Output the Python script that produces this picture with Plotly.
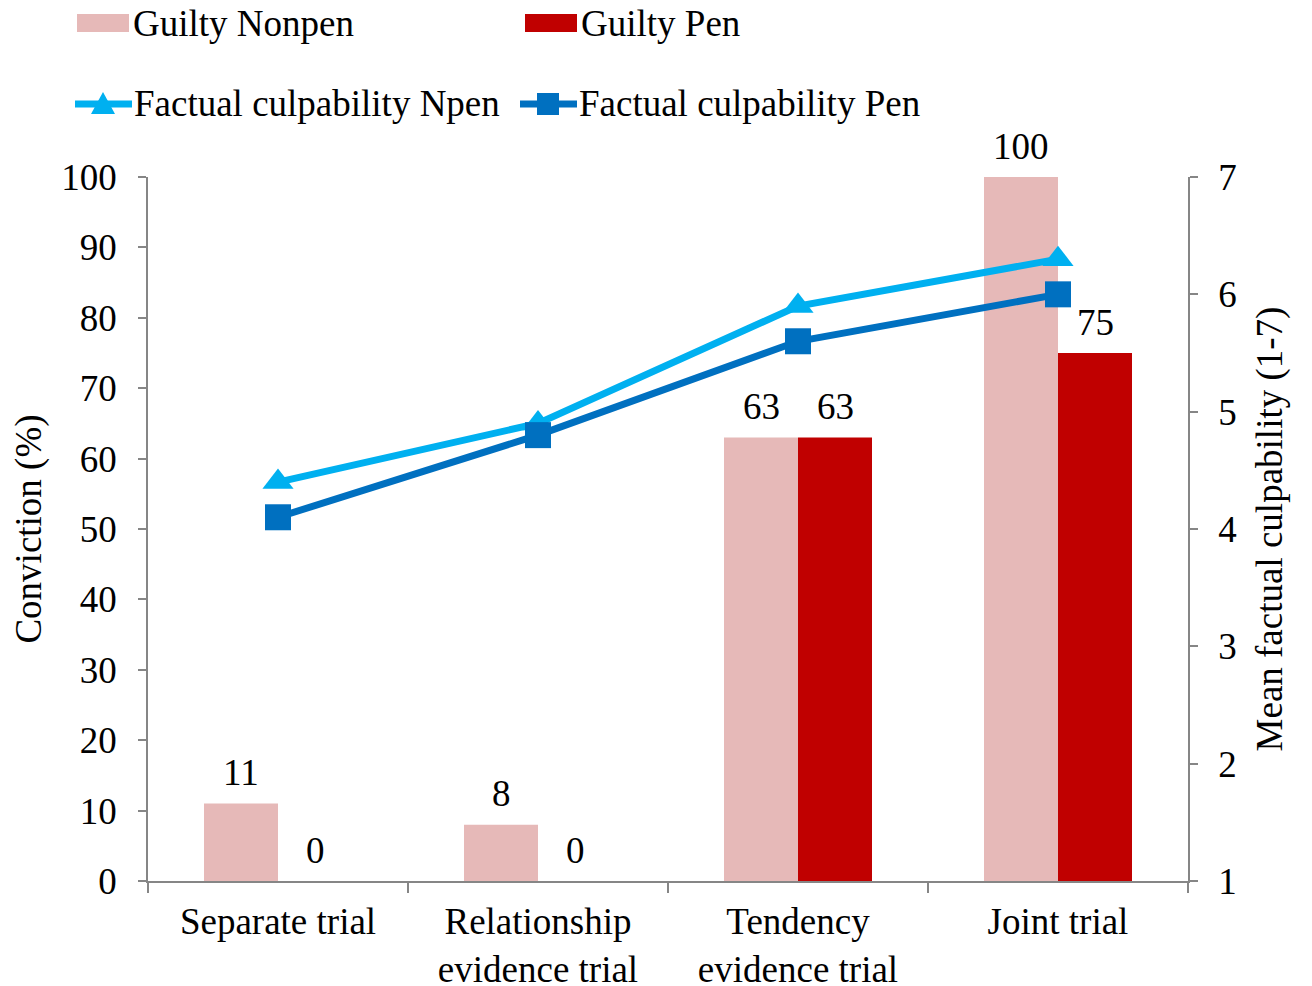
import plotly.graph_objects as go

categories = ["Separate trial", "Relationship<br>evidence trial", "Tendency<br>evidence trial", "Joint trial"]
guilty_nonpen = [11, 8, 63, 100]
guilty_pen = [0, 0, 63, 75]
culp_npen = [4.4, 4.9, 5.9, 6.3]
culp_pen = [4.1, 4.8, 5.6, 6.0]

C_NONPEN = "#E6B9B8"
C_PEN = "#C00000"
C_LNPEN = "#00B0F0"
C_LPEN = "#0070C0"
FONT = "Liberation Serif, Times New Roman, serif"
FS = 37

OFF = 8  # page body margin
W, H = 1304, 978
# target plot area in window pixels: x 148..1188, y 177..881
L, R, T, B = 148 - OFF, OFF + W - 1188, 177 - OFF, OFF + H - 881

def px(xp):
    return (xp - 148) / (1188 - 148)

def py(yp):
    return (881 - yp) / (881 - 177)

fig = go.Figure()
fig.add_trace(go.Bar(x=categories, y=guilty_nonpen, name="Guilty Nonpen",
                     marker=dict(color=C_NONPEN, line=dict(width=0))))
fig.add_trace(go.Bar(x=categories, y=guilty_pen, name="Guilty Pen",
                     marker=dict(color=C_PEN, line=dict(width=0))))
fig.add_trace(go.Scatter(x=categories, y=culp_npen, name="Factual culpability Npen",
                         yaxis="y2", mode="lines+markers",
                         line=dict(color=C_LNPEN, width=7),
                         marker=dict(symbol="triangle-up", size=27, color=C_LNPEN)))
fig.add_trace(go.Scatter(x=categories, y=culp_pen, name="Factual culpability Pen",
                         yaxis="y2", mode="lines+markers",
                         line=dict(color=C_LPEN, width=7),
                         marker=dict(symbol="square", size=26, color=C_LPEN)))

annotations = []
for c, v in zip(categories, guilty_nonpen):
    annotations.append(dict(x=c, y=v, xref="x", yref="y", text=str(v), showarrow=False,
                            xshift=-37, yshift=31, yanchor="middle",
                            font=dict(family=FONT, size=FS, color="black")))
for c, v in zip(categories, guilty_pen):
    annotations.append(dict(x=c, y=v, xref="x", yref="y", text=str(v), showarrow=False,
                            xshift=37, yshift=31, yanchor="middle",
                            font=dict(family=FONT, size=FS, color="black")))

# manual legend
legend_items = [
    ("Guilty Nonpen", "rect", C_NONPEN, 77, 23),
    ("Guilty Pen", "rect", C_PEN, 525, 23),
    ("Factual culpability Npen", "tri", C_LNPEN, 75, 104),
    ("Factual culpability Pen", "sq", C_LPEN, 520, 104),
]
shapes = []
for name, kind, col, x0, yc in legend_items:
    if kind == "rect":
        shapes.append(dict(type="rect", xref="paper", yref="paper",
                           x0=px(x0), x1=px(x0 + 52), y0=py(yc + 9), y1=py(yc - 9),
                           fillcolor=col, line=dict(width=0)))
        tx = x0 + 54
    else:
        shapes.append(dict(type="line", xref="paper", yref="paper",
                           x0=px(x0), x1=px(x0 + 57), y0=py(yc), y1=py(yc),
                           line=dict(color=col, width=7)))
        cx = x0 + 28
        if kind == "tri":
            path = "M {} {} L {} {} L {} {} Z".format(px(cx - 12), py(yc + 10), px(cx + 12), py(yc + 10), px(cx), py(yc - 12))
            shapes.append(dict(type="path", xref="paper", yref="paper", path=path,
                               fillcolor=col, line=dict(width=0)))
        else:
            shapes.append(dict(type="rect", xref="paper", yref="paper",
                               x0=px(cx - 11), x1=px(cx + 11), y0=py(yc + 11), y1=py(yc - 11),
                               fillcolor=col, line=dict(width=0)))
        tx = x0 + 57
    annotations.append(dict(x=px(tx), y=py(yc), xref="paper", yref="paper", text=name,
                            showarrow=False, xanchor="left", yanchor="middle",
                            font=dict(family=FONT, size=FS, color="black")))

axis_common = dict(showgrid=False, zeroline=False, showline=True, linecolor="#868686",
                   linewidth=1.5, ticks="outside", tickcolor="#868686", tickwidth=1.5,
                   tickfont=dict(family=FONT, size=FS, color="black"))

fig.update_layout(
    width=W, height=H,
    margin=dict(l=L, r=R, t=T, b=B, autoexpand=False),
    paper_bgcolor="white", plot_bgcolor="white",
    barmode="group", bargap=0.4308, bargroupgap=0,
    showlegend=False,
    font=dict(family=FONT, size=FS, color="black"),
    xaxis=dict(**axis_common, ticklen=10, tickson="boundaries", ticklabelstandoff=7),
    yaxis=dict(**axis_common, range=[0, 100], dtick=10, ticklen=8, ticklabelstandoff=14,
               title=dict(text="Conviction (%)", font=dict(family=FONT, size=FS), standoff=10)),
    yaxis2=dict(**axis_common, range=[1, 7], dtick=1, ticklen=8, overlaying="y", side="right",
                ticklabelstandoff=13,
                title=dict(text="Mean factual culpability (1-7)", font=dict(family=FONT, size=FS), standoff=20)),
    annotations=annotations,
    shapes=shapes,
)

fig.write_html("out.html")
